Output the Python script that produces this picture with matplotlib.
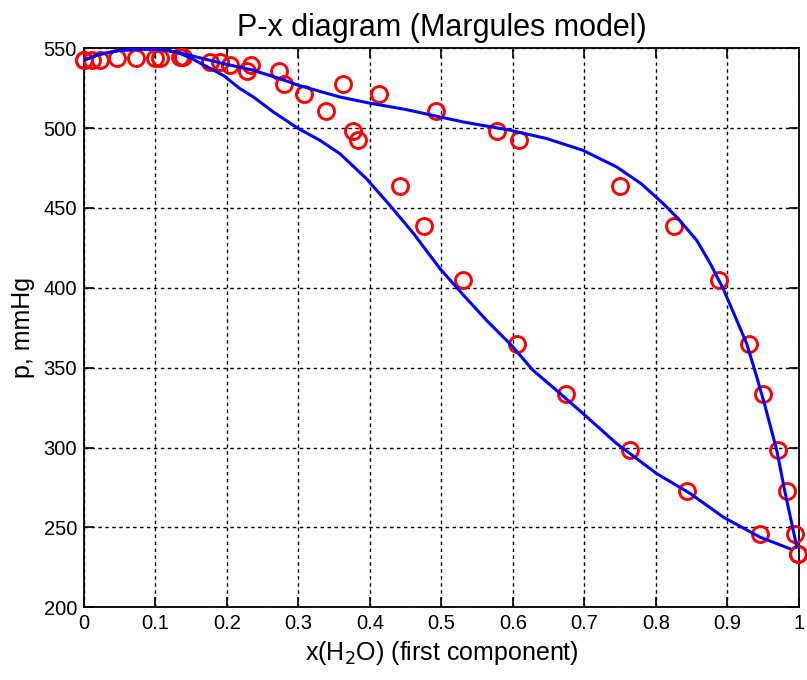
import numpy as np
import matplotlib.pyplot as plt

plt.rcParams["font.family"] = ["Liberation Sans", "DejaVu Sans"]

# experimental points: pressure, liquid and vapour mole fraction of H2O
p_exp = [542.5, 542.9, 543.9, 544.2, 544.4, 541.7, 539.7, 536.0, 527.7,
         521.4, 511.0, 498.0, 492.4, 463.6, 438.5, 404.7, 364.7, 333.3,
         298.4, 272.6, 246.1, 233.6]
x_liq = [0.000, 0.022, 0.073, 0.106, 0.138, 0.190, 0.233, 0.273, 0.363,
         0.412, 0.492, 0.578, 0.608, 0.750, 0.825, 0.888, 0.930, 0.950,
         0.971, 0.983, 0.994, 0.999]
y_vap = [0.000, 0.011, 0.046, 0.099, 0.134, 0.176, 0.204, 0.228, 0.280,
         0.308, 0.339, 0.376, 0.384, 0.442, 0.476, 0.530, 0.606, 0.674,
         0.764, 0.844, 0.945, 0.999]

# Margules model curves
x_bub = [0, 0.02, 0.05, 0.08, 0.11, 0.13, 0.148, 0.195, 0.237, 0.274, 0.300,
         0.358, 0.398, 0.451, 0.498, 0.530, 0.596, 0.647, 0.698, 0.745, 0.780,
         0.810, 0.831, 0.857, 0.876, 0.894, 0.913, 0.927, 0.941, 0.952, 0.969,
         0.980, 0.990, 0.997]
p_bub = [542.5, 546.0, 548.7, 549.5, 549.2, 547.5, 545.6, 540.4, 536.2, 531.0,
         526.8, 519.5, 515.8, 511.6, 507.0, 503.9, 498.7, 493.5, 486.1, 475.7,
         465.0, 452.8, 443.4, 429.8, 415.2, 399.5, 379.7, 365.0, 344.2, 327.0,
         298.3, 273.2, 252.4, 237.7]
x_dew = [0, 0.02, 0.05, 0.08, 0.11, 0.13, 0.148, 0.195, 0.218, 0.237, 0.265,
         0.300, 0.330, 0.358, 0.395, 0.430, 0.461, 0.498, 0.531, 0.563, 0.598,
         0.628, 0.661, 0.698, 0.745, 0.801, 0.848, 0.894, 0.945, 0.987]
p_dew = [542.5, 546.0, 548.7, 549.5, 549.2, 547.5, 544.2, 533.0, 524.8, 519.5,
         510.1, 499.7, 492.4, 484.0, 468.4, 450.6, 434.0, 412.0, 395.3, 379.7,
         364.0, 348.4, 335.8, 321.3, 302.5, 283.7, 271.2, 256.5, 244.0, 236.7]

fig = plt.figure(figsize=(8.07, 6.8), dpi=100)
ax = fig.add_axes([0.104, 0.107, 0.886, 0.822])

circ = dict(ls="none", marker="o", ms=11.5, mfc="none", mec="red", mew=2.1,
            clip_on=False, zorder=3)
ax.plot(x_liq, p_exp, **circ)
ax.plot(y_vap, p_exp, **circ)
ax.plot(x_bub, p_bub, color="blue", lw=2.2, zorder=4)
ax.plot(x_dew, p_dew, color="blue", lw=2.2, zorder=4)

ax.set_xlim(0, 1)
ax.set_ylim(200, 550)
ax.set_xticks(np.arange(0, 1.01, 0.1))
ax.set_xticklabels(["0", "0.1", "0.2", "0.3", "0.4", "0.5", "0.6", "0.7",
                    "0.8", "0.9", "1"])
ax.set_yticks(np.arange(200, 551, 50))
ax.grid(True, color="black", ls=(0, (2.5, 2.5)), lw=1.0)
ax.tick_params(direction="in", top=True, right=True, length=7, width=1.2,
               labelsize=14.5, pad=5)
for s in ax.spines.values():
    s.set_linewidth(1.3)

ax.set_title("P-x diagram (Margules model)", fontsize=22, pad=9)
ax.set_xlabel("x(H$_2$O) (first component)", fontsize=18, labelpad=4)
ax.set_ylabel("p, mmHg", fontsize=18, labelpad=6)

fig.savefig("out.png", dpi=100)
